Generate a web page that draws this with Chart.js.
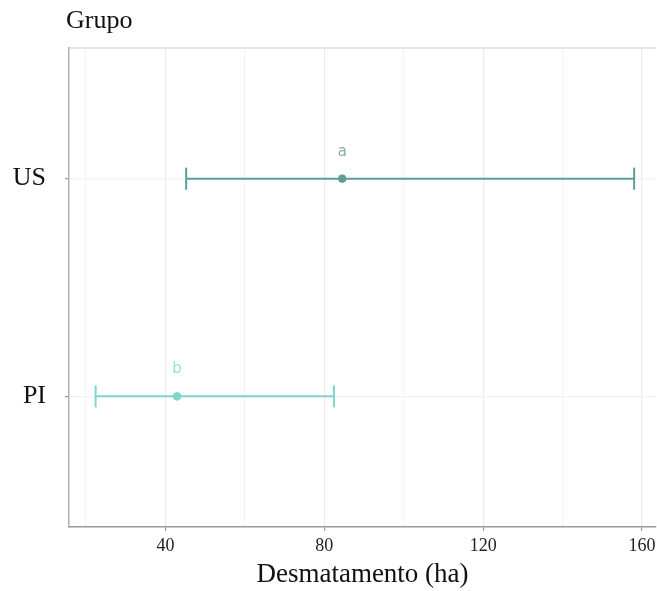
<!DOCTYPE html>
<html>
<head>
<meta charset="utf-8">
<script src="https://cdn.jsdelivr.net/npm/chart.js@4/dist/chart.umd.min.js"></script>
<style>
  html, body { margin: 0; padding: 0; background: #fff; }
  #wrap { width: 657px; height: 591px; position: relative; }
</style>
</head>
<body>
<div id="wrap"><canvas id="chart"></canvas></div>
<script>
// Intervalos por grupo (PI abajo, US arriba)
const groups = ["PI", "US"];
const means = [42.9, 84.5];
const lows = [22.4, 45.2];
const highs = [82.4, 158.0];
const letters = ["b", "a"];
const colors = ["#7fd4ce", "#5c9d99"];
const letterColors = ["#9fdcd7", "#86aeab"];
const xTicks = [40, 80, 120, 160];

const serif = "'Liberation Serif', 'Times New Roman', serif";

const datasets = [];
groups.forEach((g, i) => {
  datasets.push({
    type: "line",
    label: g + " intervalo",
    data: [{ x: lows[i], y: i + 1 }, { x: highs[i], y: i + 1 }],
    borderColor: colors[i],
    borderWidth: 2,
    pointStyle: "line",
    pointRotation: 90,
    pointRadius: 11,
    pointBorderWidth: 2,
    pointBorderColor: colors[i],
    pointHoverRadius: 11,
  });
  datasets.push({
    type: "scatter",
    label: g,
    data: [{ x: means[i], y: i + 1 }],
    backgroundColor: colors[i],
    borderColor: colors[i],
    pointRadius: 3.8,
    pointHoverRadius: 3.8,
  });
});

// Marco del panel, letras y título del eje y
const extras = {
  id: "extras",
  beforeDatasetsDraw(chart) {
    const { ctx, chartArea: a } = chart;
    ctx.save();
    ctx.strokeStyle = "#dddddd";
    ctx.lineWidth = 1.5;
    ctx.beginPath();
    ctx.moveTo(a.left, a.top);
    ctx.lineTo(a.right, a.top);
    ctx.stroke();
    ctx.restore();
  },
  afterDatasetsDraw(chart) {
    const { ctx, scales } = chart;
    ctx.save();
    ctx.font = "15px 'DejaVu Sans', sans-serif";
    ctx.textAlign = "center";
    ctx.textBaseline = "middle";
    groups.forEach((g, i) => {
      ctx.fillStyle = letterColors[i];
      ctx.fillText(letters[i], scales.x.getPixelForValue(means[i]), scales.y.getPixelForValue(i + 1) - 27);
    });
    ctx.fillStyle = "#111";
    ctx.font = "26px " + serif;
    ctx.textAlign = "left";
    ctx.fillText("Grupo", 66, 21);
    ctx.restore();
  },
};

new Chart(document.getElementById("chart"), {
  data: { datasets },
  options: {
    responsive: true,
    maintainAspectRatio: false,
    animation: false,
    layout: { autoPadding: false, padding: { top: 48, right: 1, left: 0, bottom: 0 } },
    plugins: { legend: { display: false }, tooltip: { enabled: false } },
    scales: {
      x: {
        type: "linear",
        min: 15.7,
        max: 163.5,
        afterFit: (s) => { s.height = 64; s.paddingLeft = 0; s.paddingRight = 0; },
        ticks: {
          stepSize: 20,
          includeBounds: false,
          padding: 4,
          color: "#222",
          font: { family: serif, size: 18 },
          callback: (v) => (xTicks.includes(v) ? String(v) : ""),
        },
        grid: {
          color: (c) => (c.tick && xTicks.includes(c.tick.value) ? "#ececec" : "#f5f5f5"),
          lineWidth: 1.2,
          tickLength: 4,
          tickColor: (c) => (c.tick && xTicks.includes(c.tick.value) ? "#999" : "rgba(0,0,0,0)"),
        },
        border: { color: "#9a9a9a", width: 1.5 },
        title: {
          display: true,
          text: "Desmatamento (ha)",
          color: "#111",
          font: { family: serif, size: 27 },
          padding: { top: 0, bottom: 0 },
        },
      },
      y: {
        type: "linear",
        min: 0.4,
        max: 2.6,
        afterFit: (s) => { s.width = 69; s.paddingTop = 0; s.paddingBottom = 0; },
        afterBuildTicks: (s) => { s.ticks = groups.map((g, i) => ({ value: i + 1 })); },
        ticks: {
          padding: 19,
          color: "#111",
          font: { family: serif, size: 26 },
          callback: (v) => groups[v - 1] || "",
        },
        grid: { color: "#f2f2f2", lineWidth: 1.2, tickLength: 4, tickColor: "#999" },
        border: { color: "#b0b0b0", width: 1.5 },
      },
    },
  },
  plugins: [extras],
});
</script>
</body>
</html>
